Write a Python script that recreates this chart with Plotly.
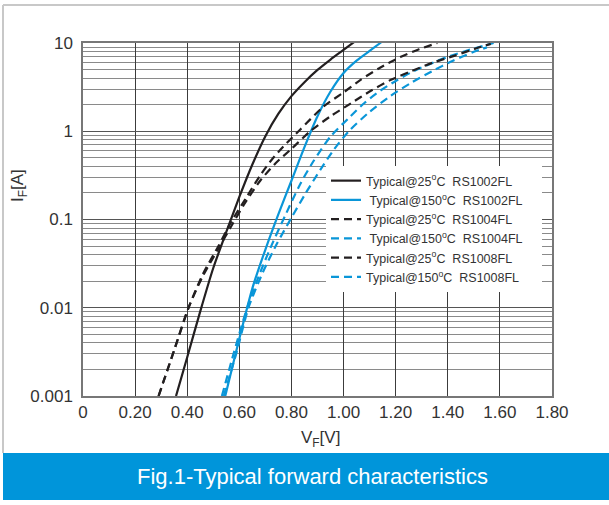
import plotly.graph_objects as go

# ---------------- data ----------------
x_tick_vals = [0, 0.2, 0.4, 0.6, 0.8, 1.0, 1.2, 1.4, 1.6, 1.8]
x_tick_text = ["0", "0.20", "0.40", "0.60", "0.80", "1.00", "1.20", "1.40", "1.60", "1.80"]
y_tick_vals = [0.001, 0.01, 0.1, 1, 10]
y_tick_text = ["0.001", "0.01", "0.1", "1", "10"]

# Typical@25C RS1002FL (black solid)
v_25_1002 = [0.357, 0.40, 0.45, 0.50, 0.55, 0.60, 0.65, 0.70, 0.75, 0.80, 0.85, 0.90, 0.95, 1.00, 1.045]
i_25_1002 = [0.001, 0.00275, 0.0091, 0.0282, 0.0724, 0.18, 0.42, 0.88, 1.58, 2.5, 3.6, 4.95, 6.5, 8.35, 10.5]

# Typical@150C RS1002FL (blue solid)
v_150_1002 = [0.546, 0.60, 0.65, 0.70, 0.75, 0.80, 0.85, 0.90, 0.95, 1.00, 1.05, 1.10, 1.145]
i_150_1002 = [0.001, 0.00447, 0.0166, 0.0457, 0.115, 0.275, 0.661, 1.48, 2.82, 4.57, 6.31, 8.13, 10.2]

# Typical@25C RS1004FL (black dashed)
v_25_1004 = [0.29, 0.35, 0.405, 0.46, 0.52, 0.57, 0.625, 0.68, 0.725, 0.77, 0.834, 0.923, 1.0, 1.064, 1.14, 1.218, 1.29, 1.36]
i_25_1004 = [0.001, 0.00331, 0.01, 0.024, 0.0501, 0.0955, 0.174, 0.316, 0.479, 0.676, 1.047, 1.905, 2.754, 3.80, 5.25, 6.92, 8.51, 10.0]

# Typical@150C RS1004FL (blue dashed)
v_150_1004 = [0.533, 0.58, 0.63, 0.68, 0.73, 0.78, 0.83, 0.88, 0.95, 1.02, 1.08, 1.141, 1.20, 1.268, 1.33, 1.397, 1.48, 1.576]
i_150_1004 = [0.001, 0.00316, 0.01, 0.0251, 0.0562, 0.1175, 0.240, 0.437, 0.871, 1.413, 2.089, 2.884, 3.715, 4.786, 5.754, 6.918, 8.318, 10.0]

# Typical@25C RS1008FL (black dashed)
v_25_1008 = [0.29, 0.35, 0.405, 0.46, 0.52, 0.57, 0.62, 0.68, 0.74, 0.80, 0.872, 0.95, 1.03, 1.10, 1.18, 1.26, 1.345, 1.43, 1.51, 1.565]
i_25_1008 = [0.001, 0.00331, 0.01, 0.0229, 0.0468, 0.0851, 0.151, 0.275, 0.437, 0.631, 1.0, 1.479, 2.089, 2.818, 3.80, 4.786, 6.026, 7.244, 8.71, 9.77]

# Typical@150C RS1008FL (blue dashed)
v_150_1008 = [0.54, 0.59, 0.635, 0.69, 0.745, 0.80, 0.855, 0.91, 0.96, 1.02, 1.10, 1.18, 1.26, 1.34, 1.42, 1.50, 1.55]
i_150_1008 = [0.001, 0.00316, 0.01, 0.0251, 0.0537, 0.1047, 0.1995, 0.363, 0.603, 1.0, 1.66, 2.512, 3.548, 4.786, 6.31, 7.943, 8.913]

PAD = "\u00a0" * 4
names = [
    "Typical@25<sup>o</sup>C\u00a0\u00a0RS1002FL" + PAD,
    "\u00a0Typical@150<sup>o</sup>C\u00a0\u00a0RS1002FL" + PAD,
    "Typical@25<sup>o</sup>C\u00a0\u00a0RS1004FL" + PAD,
    "\u00a0Typical@150<sup>o</sup>C\u00a0\u00a0RS1004FL" + PAD,
    "Typical@25<sup>o</sup>C\u00a0\u00a0RS1008FL" + PAD,
    "Typical@150<sup>o</sup>C\u00a0\u00a0RS1008FL" + PAD,
]

BLACK = "#231f20"
BLUE = "#0a96d8"
DASH = "8px,5px"

series = [
    (names[0], v_25_1002, i_25_1002, BLACK, "solid"),
    (names[1], v_150_1002, i_150_1002, BLUE, "solid"),
    (names[2], v_25_1004, i_25_1004, BLACK, DASH),
    (names[3], v_150_1004, i_150_1004, BLUE, DASH),
    (names[4], v_25_1008, i_25_1008, BLACK, DASH),
    (names[5], v_150_1008, i_150_1008, BLUE, DASH),
]

fig = go.Figure()
for name, v, i, color, dash in series:
    fig.add_trace(go.Scatter(
        x=v, y=i, mode="lines", name=name,
        line=dict(color=color, width=2.2, dash=dash, shape="spline", smoothing=0.7),
    ))

# ---------------- layout ----------------
W, H = 609, 505
L, R, T, B = 83, 57, 43, 109
PW, PH = W - L - R, H - T - B


def px(xp):
    return (xp - L) / PW


def py(yp):
    return (H - B - yp) / PH


FONT = "Liberation Sans, Arial, sans-serif"

fig.update_layout(
    width=W, height=H,
    margin=dict(l=L, r=R, t=T, b=B, autoexpand=False),
    paper_bgcolor="white", plot_bgcolor="white",
    font=dict(family=FONT, color="#333333"),
    showlegend=True,
    legend=dict(
        x=px(326), y=py(166), xanchor="left", yanchor="top",
        bgcolor="white", borderwidth=0,
        font=dict(size=12.5, color="#333333", family=FONT),
        itemwidth=30, tracegroupgap=0,
    ),
    xaxis=dict(
        range=[0, 1.8], tickmode="array", tickvals=x_tick_vals, ticktext=x_tick_text,
        showgrid=True, gridcolor="#3c3c3c", gridwidth=1, automargin=False,
        showline=True, linecolor="#777777", linewidth=1.5, mirror=True,
        zeroline=False, ticks="", tickfont=dict(size=17, color="#333333"),
    ),
    yaxis=dict(
        type="log", range=[-3, 1], tickmode="array", tickvals=y_tick_vals, ticktext=y_tick_text,
        showgrid=True, gridcolor="#555555", gridwidth=1, automargin=False,
        minor=dict(dtick="D1", showgrid=True, gridcolor="#8a8a8a", gridwidth=1, ticks=""),
        showline=True, linecolor="#777777", linewidth=1.5, mirror=True,
        zeroline=False, ticks="", ticklabelstandoff=5, tickfont=dict(size=17, color="#333333"),
    ),
    shapes=[
        # outer light frame
        dict(type="line", xref="paper", yref="paper", x0=px(3), x1=px(609), y0=py(5), y1=py(5),
             line=dict(color="#c8c8c8", width=2)),
        dict(type="line", xref="paper", yref="paper", x0=px(3), x1=px(3), y0=py(5), y1=py(453),
             line=dict(color="#c8c8c8", width=2)),
        # caption banner
        dict(type="rect", xref="paper", yref="paper", x0=px(3), x1=px(609), y0=py(500), y1=py(453),
             fillcolor="#0095da", line=dict(width=0), layer="above"),
    ],
    annotations=[
        dict(text="V<sub>F</sub>[V]", xref="paper", yref="paper", x=px(320), y=py(439),
             xanchor="center", yanchor="middle", showarrow=False,
             font=dict(size=17, color="#333333", family=FONT)),
        dict(text="I<sub>F</sub>[A]", xref="paper", yref="paper", x=px(19), y=py(186),
             xanchor="center", yanchor="middle", showarrow=False, textangle=-90,
             font=dict(size=17, color="#333333", family=FONT)),
        dict(text="Fig.1-Typical forward characteristics", xref="paper", yref="paper",
             x=px(312), y=py(476), xanchor="center", yanchor="middle", showarrow=False,
             font=dict(size=22, color="white", family=FONT)),
    ],
)

fig.write_html("out.html", config={"displayModeBar": False},
               post_script="document.body.style.margin='0px';")
